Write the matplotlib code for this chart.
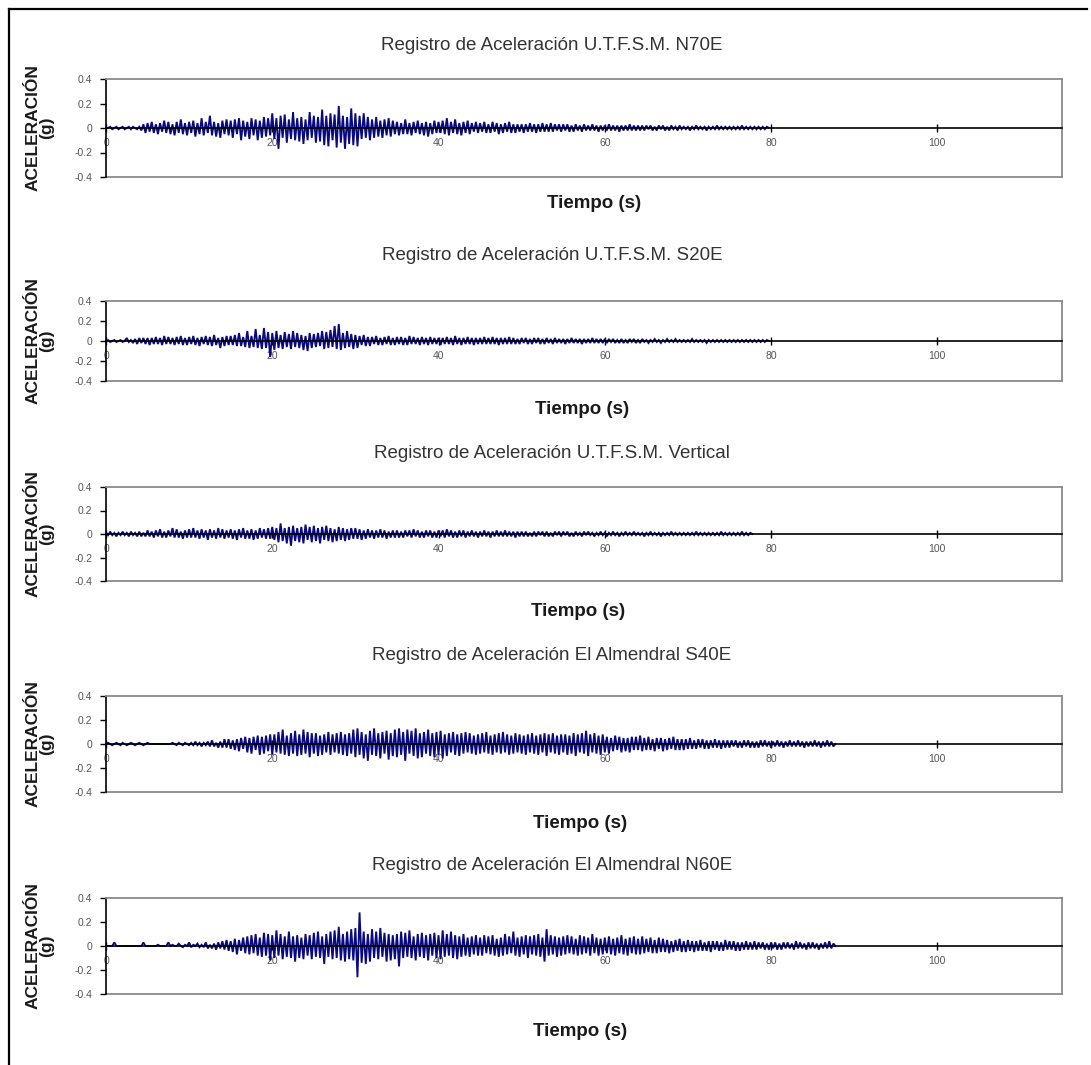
import numpy as np
import matplotlib
matplotlib.use("Agg")
import matplotlib.pyplot as plt
from matplotlib.lines import Line2D

plt.rcParams['font.family'] = ['Liberation Sans', 'DejaVu Sans']
plt.rcParams['axes.unicode_minus'] = False

# ---------------- data (acceleration in hundredths of g, one sample every DT seconds) ----------------
DT = 0.25  # s between samples

TITLES = [
    "Registro de Aceleración U.T.F.S.M. N70E",
    "Registro de Aceleración U.T.F.S.M. S20E",
    "Registro de Aceleración U.T.F.S.M. Vertical",
    "Registro de Aceleración El Almendral S40E",
    "Registro de Aceleración El Almendral N60E",
]
X_TICKS = [0, 20, 40, 60, 80, 100]
Y_TICKS = [-0.4, -0.2, 0, 0.2, 0.4]
Y_TICK_LABELS = ["-0.4", "-0.2", "0", "0.2", "0.4"]

UTFSM_N70E = [
    0, 0, 1, -1, 0, 1, -1, 0, 1, -1, 0, 1, -1, 1, 0, -1, 1, -2, 3, -4,
    4, -3, 5, -4, 3, -5, 4, -3, 6, -4, 5, -5, 3, -6, 5, -4, 7, -5, 4, -6,
    5, -4, 6, -7, 4, -5, 8, -6, 5, -4, 10, -6, 5, -7, 4, -8, 6, -5, 7, -6,
    6, -8, 7, -5, 8, -10, 6, -7, 5, -9, 8, -6, 7, -10, 6, -8, 9, -7, 8, -6,
    12, -9, 8, -17, 10, -8, 11, -12, 7, -9, 13, -10, 8, -11, 9, -13, 7, -10, 13, -8,
    10, -12, 9, -11, 15, -14, 10, -15, 12, -10, 11, -16, 18, -12, 10, -17, 9, -13, 16, -14,
    12, -15, 10, -9, 12, -8, 9, -10, 7, -8, 9, -7, 6, -8, 7, -6, 8, -7, 6, -5,
    5, -6, 4, -5, 7, -5, 4, -6, 5, -4, 6, -5, 4, -6, 5, -7, 4, -5, 6, -4,
    5, -4, 6, -5, 8, -6, 5, -4, 7, -5, 4, -6, 5, -4, 6, -5, 4, -3, 5, -4,
    4, -3, 5, -4, 3, -4, 5, -3, 4, -5, 3, -4, 4, -3, 5, -4, 3, -4, 3, -3,
    3, -4, 3, -3, 4, -3, 3, -4, 3, -3, 4, -3, 3, -3, 4, -3, 3, -2, 3, -3,
    3, -2, 3, -3, 2, -3, 3, -2, 2, -3, 3, -2, 2, -2, 3, -2, 2, -3, 2, -2,
    2, -2, 3, -2, 2, -2, 2, -3, 2, -2, 2, -2, 3, -2, 2, -2, 2, -2, 2, -2,
    2, -1, 2, -2, 1, -2, 2, -1, 2, -2, 1, -2, 2, -1, 1, -2, 2, -1, 1, -1,
    1, -2, 1, -1, 2, -1, 1, -1, 1, -2, 1, -1, 1, -1, 2, -1, 1, -1, 1, -1,
    1, -1, 1, -1, 1, -1, 2, -1, 1, -1, 1, -1, 1, -1, 1, -1, 1, -1, 1, 0,
]

UTFSM_S20E = [
    0, 1, -1, 0, 1, -1, 0, 1, -1, 0, 3, -1, 1, -2, 2, -3, 3, -2, 3, -3,
    3, -4, 3, -3, 4, -3, 3, -4, 5, -3, 4, -3, 3, -4, 4, -3, 5, -4, 3, -4,
    4, -3, 5, -4, 3, -5, 4, -3, 5, -4, 4, -5, 6, -4, 3, -7, 4, -5, 5, -4,
    5, -4, 6, -5, 8, -5, 4, -6, 10, -7, 5, -6, 12, -7, 6, -8, 13, -7, 9, -16,
    8, -9, 10, -7, 6, -8, 9, -6, 7, -8, 10, -6, 8, -7, 6, -9, 5, -10, 8, -7,
    7, -6, 8, -5, 10, -8, 9, -7, 11, -6, 15, -8, 17, -9, 8, -7, 10, -6, 7, -8,
    6, -7, 5, -4, 6, -5, 4, -5, 4, -3, 5, -4, 3, -4, 4, -3, 5, -4, 3, -4,
    4, -3, 4, -4, 3, -4, 5, -3, 4, -3, 3, -4, 4, -3, 3, -4, 4, -3, 3, -3,
    3, -4, 3, -3, 4, -3, 3, -4, 5, -3, 3, -4, 3, -3, 4, -3, 3, -4, 3, -3,
    3, -3, 4, -3, 3, -3, 4, -3, 3, -4, 3, -3, 3, -3, 4, -3, 3, -3, 2, -3,
    3, -2, 3, -3, 2, -3, 3, -2, 3, -3, 2, -3, 3, -2, 2, -3, 3, -2, 2, -2,
    2, -3, 2, -2, 3, -2, 2, -2, 2, -3, 2, -2, 2, -2, 3, -2, 2, -2, 2, -2,
    2, -2, 2, -1, 2, -2, 1, -2, 2, -2, 1, -2, 2, -1, 2, -2, 1, -2, 2, -1,
    1, -2, 1, -1, 2, -1, 1, -2, 1, -1, 2, -1, 1, -1, 2, -1, 1, -1, 1, -1,
    1, -1, 2, -1, 1, -1, 1, -1, 1, -2, 1, -1, 1, -1, 1, -1, 1, -1, 1, -1,
    1, -1, 1, -1, 1, -1, 1, -1, 1, -1, 1, -1, 1, -1, 1, -1, 1, -1, 1, 0,
]

UTFSM_VERTICAL = [
    1, -1, 2, -1, 1, -2, 1, -1, 2, -1, 1, -2, 2, -1, 1, -2, 2, -2, 1, -2,
    3, -2, 2, -3, 3, -2, 4, -3, 2, -3, 3, -2, 5, -3, 4, -3, 2, -4, 3, -3,
    4, -3, 5, -3, 3, -4, 4, -3, 3, -5, 4, -3, 3, -4, 5, -3, 4, -4, 3, -3,
    4, -4, 3, -5, 4, -3, 5, -4, 3, -4, 4, -5, 3, -4, 5, -3, 4, -4, 5, -4,
    6, -5, 5, -7, 9, -6, 5, -8, 6, -10, 7, -6, 5, -7, 6, -8, 8, -5, 6, -7,
    7, -6, 5, -8, 6, -5, 7, -6, 5, -7, 4, -6, 6, -5, 5, -6, 4, -5, 5, -4,
    5, -4, 4, -5, 3, -4, 4, -3, 3, -4, 3, -3, 4, -3, 3, -4, 2, -3, 3, -3,
    3, -3, 2, -3, 3, -2, 3, -3, 4, -2, 3, -3, 2, -3, 3, -2, 3, -3, 2, -3,
    3, -2, 3, -3, 4, -2, 3, -3, 2, -3, 3, -2, 3, -3, 2, -2, 3, -2, 2, -3,
    2, -2, 3, -2, 2, -3, 2, -2, 3, -2, 2, -2, 3, -2, 2, -2, 2, -3, 2, -2,
    2, -2, 2, -2, 1, -2, 2, -2, 2, -1, 2, -2, 2, -2, 1, -2, 2, -1, 2, -2,
    2, -1, 2, -2, 1, -2, 2, -1, 1, -2, 2, -1, 2, -1, 1, -2, 1, -1, 2, -1,
    1, -2, 1, -1, 2, -1, 1, -2, 1, -1, 2, -1, 1, -1, 2, -1, 1, -1, 1, -2,
    1, -1, 2, -1, 1, -1, 1, -2, 1, -1, 1, -1, 2, -1, 1, -1, 1, -1, 1, -1,
    1, -1, 1, -1, 2, -1, 1, -1, 1, -1, 1, -1, 1, -1, 1, -1, 2, -1, 1, -1,
    1, -1, 1, -1, 1, -1, 2, -1, 1, -1, 1, 0,
]

ALMENDRAL_S40E = [
    0, 1, 0, -1, 0, 1, 0, -1, 1, 0, -1, 0, 1, 0, -1, 0, 1, 0, -1, 0,
    1, 0, 0, 0, 0, 0, 0, 0, 0, 0, 0, 0, 1, 0, -1, 1, 0, -1, 1, 0,
    -1, 1, -1, 2, -1, 1, -2, 1, -1, 2, -2, 3, -2, 1, -3, 2, -3, 4, -3, 4,
    -4, 3, -5, 4, -6, 5, -4, 6, -7, 5, -8, 6, -5, 7, -9, 6, -8, 7, -6, 8,
    -9, 8, -7, 10, -8, 12, -9, 7, -10, 9, -8, 11, -10, 8, -9, 12, -8, 10, -11, 9,
    -8, 9, -10, 7, -9, 8, -7, 10, -9, 8, -7, 9, -8, 10, -9, 8, -10, 9, -8, 12,
    -11, 13, -9, 10, -12, 8, -14, 11, -9, 13, -10, 9, -12, 10, -8, 11, -13, 9, -10, 12,
    -11, 13, -9, 10, -14, 12, -8, 11, -10, 13, -12, 9, -11, 10, -8, 12, -10, 9, -11, 10,
    -9, 11, -12, 8, -10, 9, -7, 10, -9, 8, -10, 9, -8, 10, -7, 9, -8, 7, -9, 8,
    -8, 9, -7, 10, -8, 7, -9, 8, -7, 9, -8, 10, -7, 8, -9, 7, -8, 9, -7, 8,
    -8, 7, -9, 8, -7, 9, -8, 7, -9, 8, -7, 9, -10, 8, -7, 9, -8, 7, -9, 8,
    -7, 8, -9, 7, -8, 9, -10, 8, -7, 9, -8, 11, -10, 8, -7, 9, -8, 7, -9, 8,
    -7, 6, -8, 5, -6, 7, -5, 6, -7, 5, -6, 5, -7, 6, -5, 6, -5, 7, -6, 5,
    -5, 6, -5, 4, -6, 5, -4, 5, -6, 4, -5, 5, -4, 6, -5, 4, -5, 4, -5, 4,
    -4, 5, -4, 3, -4, 4, -3, 4, -4, 3, -4, 3, -3, 4, -3, 3, -4, 3, -3, 3,
    -3, 3, -2, 3, -3, 2, -3, 3, -2, 3, -3, 2, -3, 2, -3, 3, -2, 3, -2, 2,
    -3, 2, -2, 3, -2, 2, -3, 2, -2, 3, -2, 2, -2, 3, -2, 2, -3, 2, -2, 2,
    -2, 3, -2, 2, -3, 2, -2, 3, -2, 2, -2, 0,
]

ALMENDRAL_N60E = [
    0, 0, 0, 0, 3, 0, 0, 0, 0, 0, 0, 0, 0, 0, 0, 0, 0, 0, 3, 0,
    0, 0, 0, 0, 0, 1, 0, 0, 0, 0, 3, 0, 1, 0, 0, 2, 0, -1, 1, 0,
    3, -1, 1, 0, 2, -1, 1, -1, 3, -2, 1, -2, 2, -3, 3, -2, 4, -3, 5, -4,
    4, -5, 6, -7, 5, -4, 7, -6, 8, -7, 9, -6, 10, -8, 7, -9, 11, -8, 10, -12,
    9, -10, 13, -8, 10, -11, 8, -9, 12, -10, 8, -13, 9, -10, 7, -11, 10, -8, 9, -11,
    11, -9, 12, -10, 8, -15, 10, -9, 12, -11, 13, -10, 16, -12, 10, -13, 12, -11, 14, -12,
    15, -26, 28, -14, 12, -15, 10, -13, 14, -10, 12, -11, 15, -9, 11, -13, 10, -12, 9, -11,
    10, -17, 12, -10, 11, -9, 13, -10, 8, -12, 10, -9, 11, -10, 9, -12, 10, -8, 11, -10,
    9, -11, 13, -9, 10, -8, 12, -10, 9, -11, 8, -9, 10, -8, 7, -9, 8, -7, 9, -8,
    7, -8, 9, -6, 8, -7, 9, -8, 6, -9, 7, -8, 10, -7, 8, -6, 12, -8, 7, -9,
    8, -7, 9, -10, 8, -7, 9, -8, 10, -9, 7, -13, 14, -8, 9, -7, 8, -9, 7, -8,
    8, -7, 9, -6, 8, -7, 6, -8, 9, -7, 8, -6, 7, -8, 10, -6, 7, -8, 6, -7,
    7, -6, 8, -7, 6, -8, 7, -6, 9, -7, 6, -8, 7, -6, 8, -7, 6, -7, 8, -6,
    6, -5, 7, -6, 5, -6, 7, -5, 6, -5, 5, -6, 4, -5, 5, -4, 6, -5, 4, -5,
    5, -4, 4, -5, 4, -4, 5, -4, 3, -4, 4, -5, 4, -3, 4, -4, 3, -4, 5, -3,
    4, -3, 4, -4, 3, -4, 3, -3, 4, -3, 3, -3, 4, -3, 3, -2, 3, -3, 2, -3,
    3, -2, 3, -3, 2, -3, 3, -2, 3, -2, 2, -3, 4, -2, 3, -2, 2, -3, 3, -2,
    3, -2, 2, -3, 2, -2, 3, -2, 4, -2, 2, 0,
]

SERIES = [UTFSM_N70E, UTFSM_S20E, UTFSM_VERTICAL, ALMENDRAL_S40E, ALMENDRAL_N60E]

# ---------------- layout (pixels) ----------------
W, H = 1091, 1065
fig = plt.figure(figsize=(W / 100, H / 100), dpi=100)
fig.patch.set_facecolor('white')

def fx(x):
    return x / W

def fy(y):
    return 1 - y / H

# outer frame (left and top rules)
fig.add_artist(Line2D([fx(9), fx(9)], [fy(9), fy(H)], color='black', lw=1.6, transform=fig.transFigure))
fig.add_artist(Line2D([fx(9), fx(1087)], [fy(9), fy(9)], color='black', lw=1.6, transform=fig.transFigure))

LEFT, RIGHT = 106, 1062
# (plot top, plot bottom, title y, x-label y, x-label centre)
PANELS = [
    (79, 177, 46, 204, 594),
    (301, 381, 255, 410, 582),
    (487, 581, 453, 612, 578),
    (696, 792, 655, 823, 580),
    (898, 994, 865, 1032, 580),
]

for (top, bot, ty, ly, lx), title, vals in zip(PANELS, TITLES, SERIES):
    ax = fig.add_axes([fx(LEFT), fy(bot), (RIGHT - LEFT) / W, (bot - top) / H])
    acc = np.array(vals, dtype=float) / 100.0
    t = np.arange(len(acc)) * DT
    ax.plot(t, acc, color='#0a0a80', lw=1.35, solid_joinstyle='miter')
    ax.set_xlim(0, 115)
    ax.set_ylim(-0.4, 0.4)

    ax.spines['bottom'].set_position(('data', 0))
    ax.spines['bottom'].set_color('black')
    ax.spines['bottom'].set_linewidth(1.2)
    ax.spines['left'].set_color('black')
    ax.spines['left'].set_linewidth(1.2)
    for s in ('top', 'right'):
        ax.spines[s].set_color('#8a8a8a')
        ax.spines[s].set_linewidth(1.3)
    ax.plot([0, 1], [0, 0], transform=ax.transAxes, color='#8a8a8a', lw=1.3, clip_on=False)

    ax.set_yticks(Y_TICKS)
    ax.set_yticklabels(Y_TICK_LABELS)
    ax.set_xticks(X_TICKS)
    ax.set_xticklabels([str(v) for v in X_TICKS])
    ax.tick_params(axis='y', direction='out', length=4, width=1, labelsize=7.5,
                   labelcolor='#555555', pad=6)
    ax.tick_params(axis='x', direction='inout', length=6, width=1, labelsize=7.5,
                   labelcolor='#555555', pad=4)

    fig.text(fx(552), fy(ty), title, ha='center', va='center', fontsize=13.5, color='#333333')
    fig.text(fx(lx), fy(ly), "Tiempo (s)", ha='center', va='center', fontsize=13.5,
             fontweight='bold', color='#1a1a1a')
    fig.text(fx(40), fy((top + bot) / 2), "ACELERACIÓN\n(g)", ha='center', va='center',
             rotation=90, fontsize=12.5, fontweight='bold', color='#1a1a1a',
             multialignment='center', linespacing=0.9)

fig.savefig('out.png', dpi=100, facecolor='white')
